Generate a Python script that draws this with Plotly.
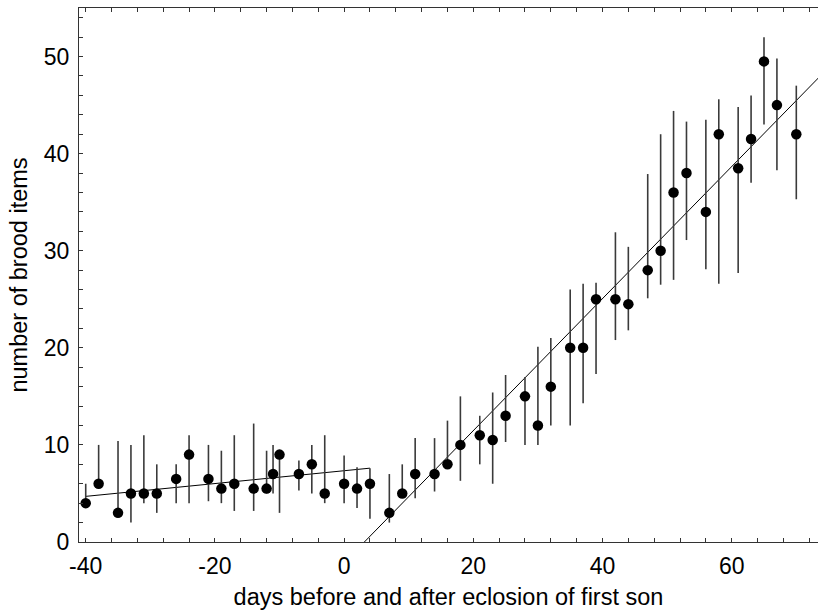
import plotly.graph_objects as go

# days relative to eclosion of the first son
days_before = [-40, -38, -35, -33, -31, -29, -26, -24, -21, -19, -17,
               -14, -12, -11, -10, -7, -5, -3, 0, 2, 4]
brood_before = [4, 6, 3, 5, 5, 5, 6.5, 9, 6.5, 5.5, 6,
                5.5, 5.5, 7, 9, 7, 8, 5, 6, 5.5, 6]
upper_before = [6, 10, 10.4, 10, 11, 8, 8, 11, 10, 9.4, 11,
                12.2, 9.4, 10, 9.4, 8.4, 10, 11, 8.9, 7.7, 7.6]
lower_before = [3.8, 5.5, 3, 2, 4, 3, 4, 4, 4.2, 4, 3.2,
                3.2, 5, 5, 3, 5.3, 5, 4, 4, 3.5, 2.4]

days_after = [7, 9, 11, 14, 16, 18, 21, 23, 25, 28, 30, 32, 35, 37, 39,
              42, 44, 47, 49, 51, 53, 56, 58, 61, 63, 65, 67, 70]
brood_after = [3, 5, 7, 7, 8, 10, 11, 10.5, 13, 15, 12, 16, 20, 20, 25,
               25, 24.5, 28, 30, 36, 38, 34, 42, 38.5, 41.5, 49.5, 45, 42]
upper_after = [7, 8, 10.7, 10.7, 12.5, 15, 13, 15.4, 17.2, 17, 20.1, 21, 26, 26.6, 26.7,
               31.9, 30.4, 37.9, 42, 44.4, 43.3, 43.5, 45.6, 44.8, 46, 52, 49.8, 47]
lower_after = [2, 4.6, 4.5, 5.2, 8, 6.3, 8, 6, 10.3, 10, 10, 12, 12, 14.3, 17.3,
               20.8, 21.8, 25.1, 26.5, 27, 31.1, 28.1, 26.6, 27.7, 37, 43, 38.3, 35.3]

# labelled ticks
x_ticks = [-40, -20, 0, 20, 40, 60]
x_labels = ["-40", "-20", "0", "20", "40", "60"]
y_ticks = [0, 10, 20, 30, 40, 50]

# linear fits: (slope, intercept, x start, x end)
fit_before = (0.066, 7.34, -40, 4)
fit_after = (0.68, -2.13, 3.13, 74)


def fit_line(fit):
    slope, intercept, x0, x1 = fit
    return [x0, x1], [slope * x0 + intercept, slope * x1 + intercept]


def points(x, y, hi, lo):
    return go.Scatter(
        x=x, y=y, mode="markers",
        marker=dict(color="black", size=10.5),
        error_y=dict(
            type="data", symmetric=False,
            array=[h - v for h, v in zip(hi, y)],
            arrayminus=[v - l for v, l in zip(y, lo)],
            color="#3a3a3a", thickness=1.6, width=0,
        ),
        showlegend=False,
    )


fig = go.Figure()
for fit in (fit_before, fit_after):
    lx, ly = fit_line(fit)
    fig.add_trace(go.Scatter(x=lx, y=ly, mode="lines",
                             line=dict(color="black", width=1), showlegend=False))
fig.add_trace(points(days_before, brood_before, upper_before, lower_before))
fig.add_trace(points(days_after, brood_after, upper_after, lower_after))

tick_font = dict(family="Liberation Sans, Arial, sans-serif", size=23, color="black")
title_font = dict(family="Liberation Sans, Arial, sans-serif", size=23.5, color="black")
fig.update_layout(
    width=818, height=611, autosize=False,
    margin=dict(l=79, r=0, t=8, b=69),
    plot_bgcolor="white", paper_bgcolor="white",
    font=tick_font,
)
fig.update_xaxes(
    range=[-41.04, 73.36], tickmode="array", tickvals=x_ticks, ticktext=x_labels,
    ticks="inside", ticklen=4, tickcolor="#333", tickwidth=1,
    minor=dict(dtick=4, tick0=0, ticks="inside", ticklen=4, tickcolor="#333"),
    showline=True, linecolor="#333", linewidth=1, mirror="ticks",
    showgrid=False, zeroline=False,
    ticklabelstandoff=3,
    title=dict(text="days before and after eclosion of first son", font=title_font, standoff=10),
    tickfont=tick_font,
)
fig.update_yaxes(
    range=[0, 55], tickmode="array", tickvals=y_ticks,
    ticks="inside", ticklen=4, tickcolor="#333", tickwidth=1,
    minor=dict(dtick=2, tick0=0, ticks="inside", ticklen=4, tickcolor="#333"),
    showline=True, linecolor="#333", linewidth=1,
    showgrid=False, zeroline=False,
    ticklabelstandoff=4,
    title=dict(text="number of brood items", font=title_font, standoff=9),
    tickfont=tick_font,
)

fig.write_html("out.html")
